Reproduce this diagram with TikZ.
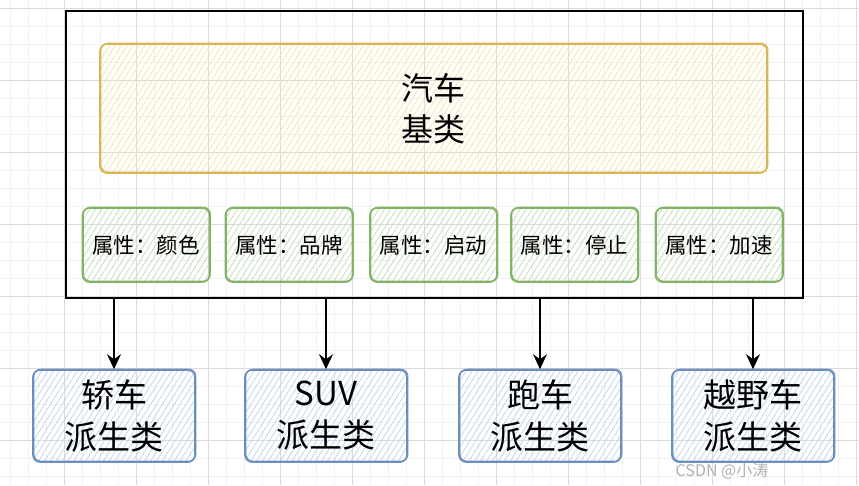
\documentclass[tikz,border=0pt]{standalone}
\usepackage{fontspec}
\setmainfont{Noto Sans CJK SC}
\usepackage{tikz}
\usetikzlibrary{arrows.meta,patterns.meta,}

\definecolor{yellowline}{HTML}{D6B656}
\definecolor{yellowhatch}{HTML}{F9E2A0}
\definecolor{greenline}{HTML}{82B366}
\definecolor{greenhatch}{HTML}{C2DBB8}
\definecolor{blueline}{HTML}{6C8EBF}
\definecolor{bluehatch}{HTML}{BCD2F0}

\tikzset{
    minorline/.style={line width=0.5pt, draw=black!5},
    majorline/.style={line width=0.7pt, draw=black!14},
    sketch/.style={draw, rounded corners=7pt, line width=1.6pt, inner sep=0pt, align=center,
        pattern={Lines[angle=58, distance=5pt, line width=0.7pt]},
        postaction={draw, line width=0.8pt, transform canvas={xshift=1pt, yshift=0.9pt}}},
    baseclass/.style={sketch, draw=yellowline, pattern color=yellowhatch,
        minimum width=667, minimum height=129, font=\fontsize{32}{41}\selectfont},
    attrbox/.style={sketch, draw=greenline, pattern color=greenhatch,
        minimum width=127, minimum height=74, font=\fontsize{21.5}{25}\selectfont},
    subclass/.style={sketch, draw=blueline, pattern color=bluehatch,
        minimum width=162, minimum height=92, font=\fontsize{33}{42}\selectfont},
    frame/.style={draw=black, line width=1.5pt, minimum width=737, minimum height=287, inner sep=0pt},
    arr/.style={line width=1.4pt, -{Stealth[length=15pt, width=14pt, inset=5pt]}},
}

\begin{document}
\begin{tikzpicture}[x=1pt, y=-1pt]
    \useasboundingbox[fill=white] (0,0) rectangle (859,485);
    \foreach \i in {1,...,48} \draw[minorline] ({-7.3+18*\i},0) -- ({-7.3+18*\i},485);
    \foreach \j in {0,...,27} \draw[minorline] (0,{-10+18*\j}) -- (859,{-10+18*\j});
    \foreach \i in {1,...,12} \draw[majorline] ({-7.3+72*\i},0) -- ({-7.3+72*\i},485);
    \foreach \j in {0,...,6} \draw[majorline] (0,{8+72*\j}) -- (859,{8+72*\j});

    \node[frame] (base) at (434.5,154.5) {};
    \node[baseclass] (car) at (433.5,108.5) {汽车\\基类};

    \node[attrbox] (color) at (146,245) {属性：颜色};
    \node[attrbox] (brand) at (289,245) {属性：品牌};
    \node[attrbox] (start) at (433.5,245) {属性：启动};
    \node[attrbox] (stop) at (574.5,245) {属性：停止};
    \node[attrbox] (speedup) at (719,245) {属性：加速};

    \node[subclass] (sedan) at (114,416) {轿车\\派生类};
    \node[subclass] (suv) at (326,416) {SUV\\派生类};
    \node[subclass] (sports) at (540,416) {跑车\\派生类};
    \node[subclass] (offroad) at (753,416) {越野车\\派生类};

    \foreach \k in {sedan,suv,sports,offroad}
        \draw[arr] (base.south -| \k.north) -- (\k.north);

    \node[text=black!30, font=\fontsize{16}{18}\selectfont] (mark) at (722,471) {CSDN @小涛};
\end{tikzpicture}
\end{document}
